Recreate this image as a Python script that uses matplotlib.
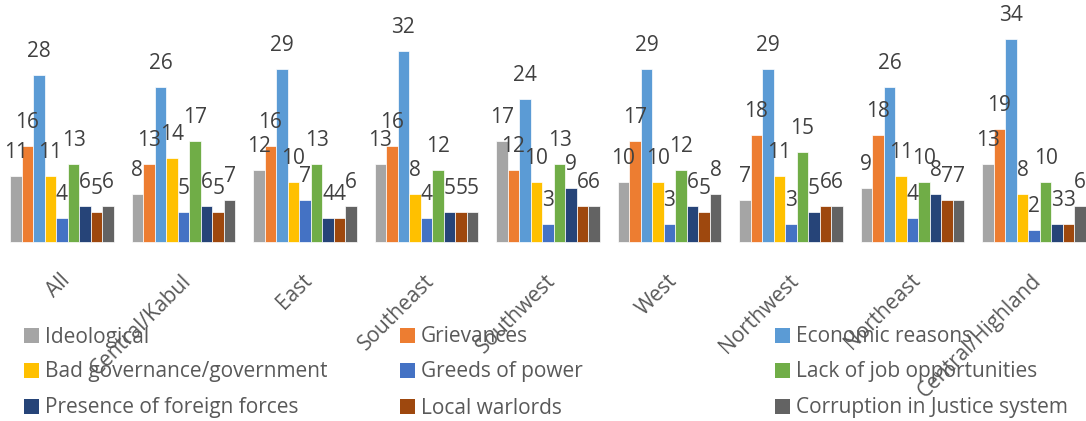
import matplotlib
matplotlib.use("Agg")
import matplotlib.pyplot as plt
from matplotlib.patches import Patch
import numpy as np

regions = ["All", "Central/Kabul", "East", "Southeast", "Southwest", "West",
           "Northwest", "Northeast", "Central/Highland"]
series = ["Ideological", "Grievances", "Economic reasons",
          "Bad governance/government", "Greeds of power", "Lack of job opportunities",
          "Presence of foreign forces", "Local warlords", "Corruption in Justice system"]
ideological = [11, 8, 12, 13, 17, 10, 7, 9, 13]
grievances = [16, 13, 16, 16, 12, 17, 18, 18, 19]
economic = [28, 26, 29, 32, 24, 29, 29, 26, 34]
bad_gov = [11, 14, 10, 8, 10, 10, 11, 11, 8]
greed = [4, 5, 7, 4, 3, 3, 3, 4, 2]
lack_jobs = [13, 17, 13, 12, 13, 12, 15, 10, 10]
foreign = [6, 6, 4, 5, 9, 6, 5, 8, 3]
warlords = [5, 5, 4, 5, 6, 5, 6, 7, 3]
corruption = [6, 7, 6, 5, 6, 8, 6, 7, 6]
values = [ideological, grievances, economic, bad_gov, greed, lack_jobs,
          foreign, warlords, corruption]
colors = ["#A5A5A5", "#ED7D31", "#5B9BD5", "#FFC000", "#4472C4", "#70AD47",
          "#264478", "#9E480E", "#636363"]

plt.rcParams['font.family'] = ['Open Sans', 'DejaVu Sans']

W, H = 1086, 421
fig = plt.figure(figsize=(W / 100, H / 100), dpi=100)
base_px = 242
ax = fig.add_axes([0, (H - base_px) / H, 1, base_px / H])
ax.set_xlim(-62 / 121.5, (W - 62) / 121.5)
ax.set_ylim(0, base_px / 5.97)
ax.axis('off')

x = np.arange(len(regions))
bw = 0.095
n = len(series)
for i, (vals, c) in enumerate(zip(values, colors)):
    xs = x + (i - (n - 1) / 2) * bw
    ax.bar(xs, vals, width=bw, color=c, edgecolor='white', linewidth=0.5, clip_on=False)
    for xi, v in zip(xs, vals):
        ax.annotate(str(v), (xi, v), xytext=(0, 18), textcoords='offset pixels',
                    ha='center', va='baseline', fontsize=15, color='#404040')

for xi, lab in zip(x, regions):
    ax.annotate(lab, (xi, 0), xytext=(-3, -28), textcoords='offset pixels',
                rotation=45, rotation_mode='anchor', ha='right', va='top',
                fontsize=15, color='#595959', annotation_clip=False)

col_x = [24, 400, 775]
row_y = [337, 372, 408]
for ci in range(3):
    for r in range(3):
        k = ci + 3 * r
        h = Patch(facecolor=colors[k], edgecolor='none')
        leg = fig.legend([h], [series[k]], loc='center left',
                         bbox_to_anchor=(col_x[ci] / W, 1 - row_y[r] / H),
                         frameon=False, fontsize=15, handlelength=0.7, handleheight=0.7,
                         handletextpad=0.3, borderaxespad=0, borderpad=0,
                         labelcolor='#595959')

fig.savefig("out.png", dpi=100)
